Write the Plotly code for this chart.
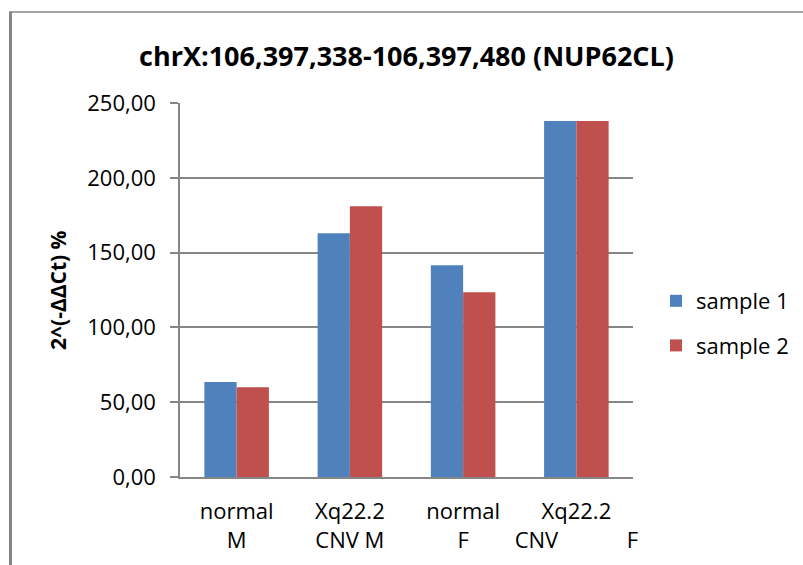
import plotly.graph_objects as go

# qPCR relative quantification, 2^(-ddCt) in percent
categories = [
    "normal<br>M",
    "Xq22.2<br>CNV M",
    "normal<br>F",
    "Xq22.2<br>CNV" + "\u00a0" * 12 + "F",
]
sample_1 = [63.5, 163.0, 141.5, 238.0]
sample_2 = [60.0, 181.0, 123.5, 238.0]
series_names = ["sample 1", "sample 2"]
series_colors = ["#4F81BD", "#C0504D"]
y_ticks = [0, 50, 100, 150, 200, 250]
y_tick_text = ["0,00", "50,00", "100,00", "150,00", "200,00", "250,00"]

W, H = 803, 565
L, R, T, B = 180, 170, 103, 88
PW, PH = W - L - R, H - T - B
GRID = "#868686"
FONT = "Open Sans"


def px_x(p):
    return (p - L) / PW


def px_y(p):
    return (H - B - p) / PH


fig = go.Figure()
for i, (name, vals) in enumerate(zip(series_names, [sample_1, sample_2])):
    fig.add_trace(go.Bar(
        x=categories, y=vals, name=name,
        marker=dict(color=series_colors[i], line=dict(width=0)),
        legendgroup=name,
    ))

fig.update_layout(
    width=W, height=H,
    margin=dict(l=L, r=R, t=T, b=B, autoexpand=False),
    paper_bgcolor="white", plot_bgcolor="white",
    barmode="group", bargap=0.43, bargroupgap=0,
    font=dict(family=FONT, size=22, color="#000000"),
    title=dict(
        text="<b>chrX:106,397,338-106,397,480 (NUP62CL)</b>",
        font=dict(family=FONT, size=27, color="#000000"),
        x=0.5, xref="paper", xanchor="center",
        y=1 - 57 / H, yref="container", yanchor="middle",
    ),
    showlegend=True,
    legend=dict(
        x=px_x(656), xanchor="left", y=px_y(280), yanchor="top",
        font=dict(family=FONT, size=22, color="#000000"),
        tracegroupgap=13, bgcolor="rgba(0,0,0,0)",
    ),
    xaxis=dict(
        showgrid=False, showline=True, linecolor=GRID, linewidth=2,
        ticks="", tickfont=dict(size=22), ticklabelstandoff=14,
        fixedrange=True,
    ),
    yaxis=dict(
        range=[0, 250], tickvals=y_ticks, ticktext=y_tick_text,
        showgrid=True, gridcolor=GRID, gridwidth=1.5,
        showline=True, linecolor=GRID, linewidth=1.5,
        ticks="outside", ticklen=8, tickcolor=GRID, tickwidth=1.5,
        tickfont=dict(size=22), ticklabelstandoff=10,
        zeroline=False,
    ),
    annotations=[dict(
        text="<b>2^(-ΔΔCt) %</b>", textangle=-90,
        xref="paper", yref="paper", x=px_x(58), y=0.5,
        xanchor="center", yanchor="middle", showarrow=False,
        font=dict(family=FONT, size=21, color="#000000"),
    )],
    shapes=[
        dict(type="line", xref="paper", yref="paper",
             x0=px_x(9), x1=px_x(W), y0=px_y(12), y1=px_y(12),
             line=dict(color=GRID, width=1.5)),
        dict(type="line", xref="paper", yref="paper",
             x0=px_x(10.5), x1=px_x(10.5), y0=px_y(12), y1=px_y(H),
             line=dict(color=GRID, width=3)),
    ],
)

fig.write_html("out.html")
